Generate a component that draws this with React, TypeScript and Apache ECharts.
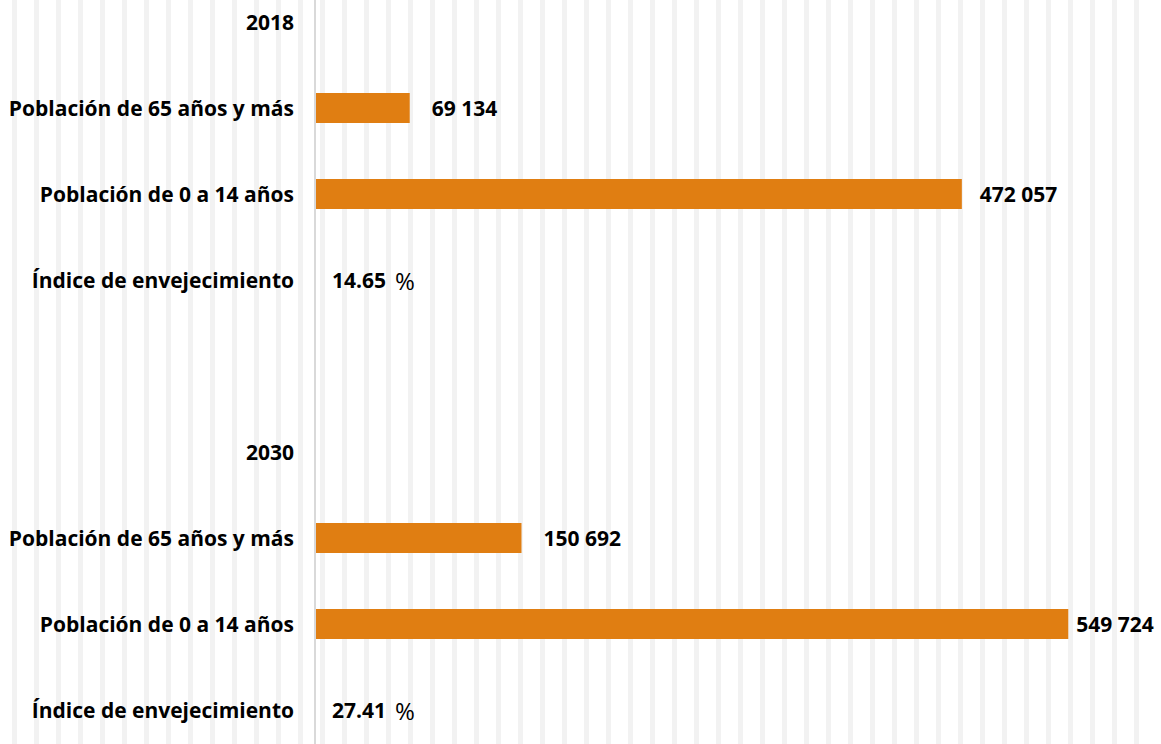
import React, { useEffect, useRef } from "react";
import * as echarts from "echarts";

const categories = [
  "2018",
  "Población de 65 años y más",
  "Población de 0 a 14 años",
  "Índice de envejecimiento",
  "",
  "2030",
  "Población de 65 años y más",
  "Población de 0 a 14 años",
  "Índice de envejecimiento",
];

const values: (number | null)[] = [null, 69134, 472057, 14.65, null, null, 150692, 549724, 27.41];
const isPercent = [false, false, false, true, false, false, false, false, true];
const labelGap = [17, 22, 18, 17, 17, 17, 22, 8, 17];

const FONT = "'Open Sans', Lato, sans-serif";
const ORANGE = "#e07e12";

function fmtThousands(v: number): string {
  return String(Math.round(v)).replace(/\B(?=(\d{3})+(?!\d))/g, " ");
}

export default function App() {
  const ref = useRef<HTMLDivElement>(null);
  useEffect(() => {
    if (!ref.current) return;
    document.body.style.margin = "0";
    document.body.style.overflow = "hidden";
    const chart = echarts.init(ref.current, undefined, { renderer: "svg" });
    const data = values.map((v, i) => ({
      value: v,
      label: {
        show: v !== null,
        distance: labelGap[i],
        formatter: () => {
          if (v === null) return "";
          return isPercent[i] ? `{n|${v.toFixed(2)}}{s| }{p|%}` : `{n|${fmtThousands(v)}}`;
        },
      },
    }));
    chart.setOption({
      animation: false,
      backgroundColor: "#ffffff",
      grid: [
        { left: 315, right: 0, top: 0, bottom: 0, containLabel: false },
        { left: 14, width: 1122, top: 0, bottom: 0, containLabel: false },
      ],
      xAxis: [
        {
          type: "value",
          gridIndex: 0,
          min: 0,
          max: 617400,
          axisLine: { show: false },
          axisTick: { show: false },
          axisLabel: { show: false },
          splitLine: { show: false },
        },
        {
          type: "value",
          gridIndex: 1,
          min: 0,
          max: 51,
          interval: 1,
          axisLine: { show: false },
          axisTick: { show: false },
          axisLabel: { show: false },
          splitLine: {
            show: true,
            showMinLine: true,
            showMaxLine: true,
            lineStyle: { color: "#f2f2f2", width: 5 },
          },
          z: -1,
        },
      ],
      yAxis: [
        {
          type: "category",
          gridIndex: 0,
          inverse: true,
          data: categories,
          axisLine: { show: true, lineStyle: { color: "#d9d9d9", width: 2 } },
          axisTick: { show: false },
          axisLabel: {
            margin: 21,
            color: "#000000",
            fontFamily: FONT,
            fontWeight: "bold",
            fontSize: 21,
          },
          z: 3,
        },
        {
          type: "value",
          gridIndex: 1,
          show: false,
          splitLine: { show: false },
        },
      ],
      series: [
        {
          type: "bar",
          xAxisIndex: 0,
          yAxisIndex: 0,
          data,
          barWidth: 30,
          itemStyle: { color: ORANGE },
          label: {
            show: true,
            position: "right",
            color: "#000000",
            fontFamily: FONT,
            rich: {
              n: { fontFamily: FONT, fontWeight: "bold", fontSize: 21, color: "#000000" },
              s: { fontFamily: FONT, fontSize: 21, width: 9 },
              p: { fontFamily: FONT, fontWeight: "normal", fontSize: 24, color: "#000000" },
            },
          },
          z: 2,
        },
      ],
    });
    return () => chart.dispose();
  }, []);
  return (
    <div
      ref={ref}
      style={{ position: "fixed", left: 0, top: -21, width: 1161, height: 774 }}
    />
  );
}
